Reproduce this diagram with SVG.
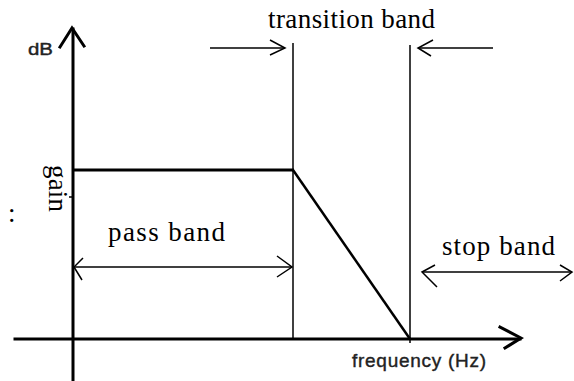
<svg xmlns="http://www.w3.org/2000/svg" width="574" height="381" viewBox="0 0 574 381">
  <style>
    .axis { stroke: #000; stroke-width: 3; fill: none; stroke-linecap: square; }
    .curve { stroke: #000; stroke-width: 3; fill: none; }
    .slope { stroke: #000; stroke-width: 2.5; fill: none; }
    .thin { stroke: #000; stroke-width: 1.5; fill: none; }
    .serif { font-family: "Liberation Serif", "Times New Roman", serif; font-size: 27px; fill: #000; }
    .sans { font-family: "Liberation Sans", Arial, sans-serif; fill: #222; }
  </style>
  <rect width="574" height="381" fill="#fff"/>

  <!-- axes -->
  <g id="axes">
    <line class="axis" x1="73" y1="29" x2="73" y2="381"/>
    <polyline class="axis" points="60,47 72,28 84,46"/>
    <line class="axis" x1="15" y1="339" x2="520" y2="339"/>
    <polyline class="axis" points="500,327 521,338 505,348"/>
    <line class="thin" x1="69" y1="197" x2="72" y2="197"/>
    <line class="thin" x1="410" y1="339" x2="410" y2="343"/>
  </g>

  <!-- filter response -->
  <g id="response">
    <line class="curve" x1="73" y1="170" x2="294" y2="170"/>
    <line class="slope" x1="293" y1="170" x2="410" y2="339"/>
  </g>

  <!-- band edges -->
  <g id="edges">
    <line class="thin" x1="293" y1="43" x2="293" y2="339"/>
    <line class="thin" x1="410" y1="45" x2="410" y2="339"/>
  </g>

  <g id="connectors">
    <!-- transition band pointers -->
    <line class="thin" x1="210" y1="48" x2="285" y2="48"/>
    <polyline class="thin" points="270,40 285,48 270,55"/>
    <line class="thin" x1="418" y1="48" x2="493" y2="48"/>
    <polyline class="thin" points="433,40 418,48 431,56"/>
    <!-- pass band span -->
    <line class="thin" x1="74" y1="267" x2="292" y2="267"/>
    <polyline class="thin" points="83,258 74,267 82,280"/>
    <polyline class="thin" points="277,256 292,267 277,277"/>
    <!-- stop band span -->
    <line class="thin" x1="422" y1="272" x2="572" y2="272"/>
    <polyline class="thin" points="435,265 422,272 437,287"/>
    <polyline class="thin" points="560,265 572,272 560,281"/>
  </g>

  <!-- labels -->
  <g id="labels">
    <text class="sans" x="28" y="55" font-size="17" stroke="#222" stroke-width="0.4" textLength="25" lengthAdjust="spacingAndGlyphs">dB</text>
    <text class="serif" x="268" y="28" textLength="167" lengthAdjust="spacing">transition band</text>
    <text class="serif" x="108" y="241" textLength="117" lengthAdjust="spacing">pass band</text>
    <text class="serif" x="442" y="255" textLength="113" lengthAdjust="spacing">stop band</text>
    <text class="serif" transform="translate(49,165) rotate(90)" font-size="24" textLength="47" lengthAdjust="spacing">gain</text>
    <text class="serif" x="8" y="222" font-size="16">:</text>
    <text class="sans" x="352" y="367" font-size="19" stroke="#222" stroke-width="0.4" textLength="134" lengthAdjust="spacing">frequency (Hz)</text>
  </g>
</svg>
